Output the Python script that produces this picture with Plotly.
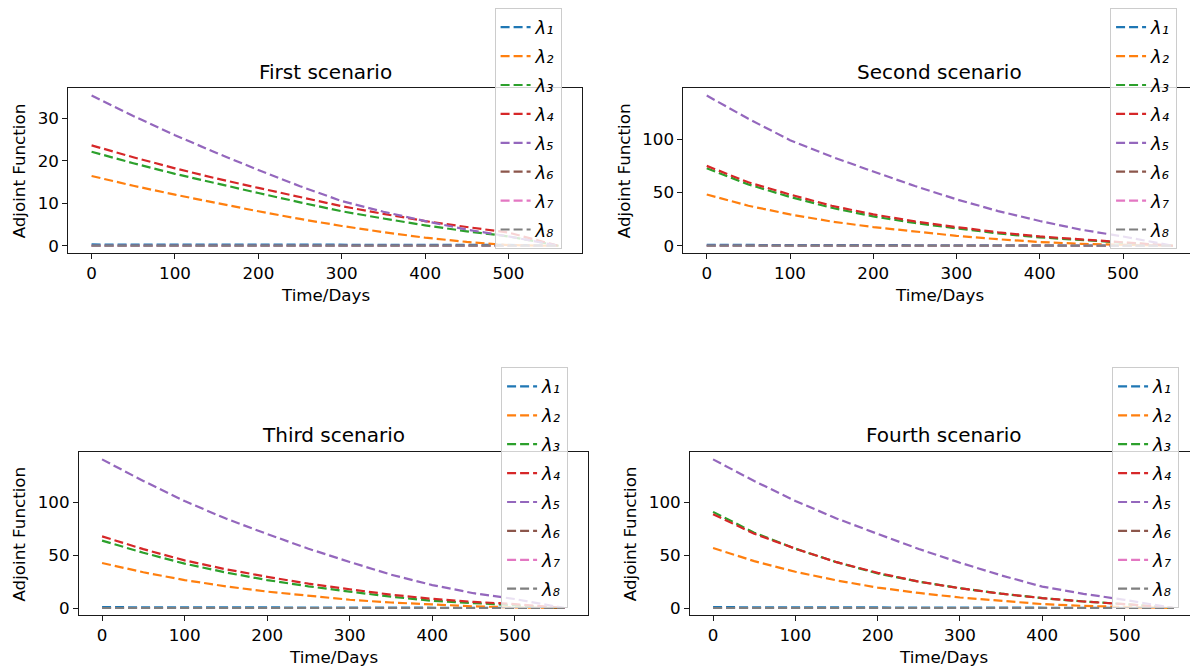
import plotly.graph_objects as go

# ---------------- data ----------------
t = [0, 50, 100, 150, 200, 250, 300, 350, 400, 450, 500, 550, 560]

scenario_titles = ["First scenario", "Second scenario", "Third scenario", "Fourth scenario"]
series_names = ["λ₁", "λ₂", "λ₃", "λ₄", "λ₅", "λ₆", "λ₇", "λ₈"]
colors = ["#1f77b4", "#ff7f0e", "#2ca02c", "#d62728", "#9467bd", "#8c564b", "#e377c2", "#7f7f7f"]

# First scenario
s1_l1 = [0.3, 0.3, 0.3, 0.3, 0.3, 0.3, 0.3, 0.3, 0.3, 0.3, 0.2, 0.05, 0]
s1_l2 = [16.4, 14.1, 12.0, 10.0, 8.1, 6.3, 4.65, 3.2, 1.9, 0.9, 0.15, 0.0, 0]
s1_l3 = [22.1, 19.4, 16.9, 14.6, 12.4, 10.2, 8.1, 6.4, 4.8, 3.4, 2.2, 0.4, 0]
s1_l4 = [23.6, 20.8, 18.2, 15.8, 13.6, 11.4, 9.3, 7.5, 5.8, 4.4, 3.1, 0.5, 0]
s1_l5 = [35.3, 30.5, 26.0, 21.8, 17.8, 14.0, 10.5, 8.0, 5.8, 3.8, 2.2, 0.35, 0]
s1_l6 = [0] * 13
s1_l7 = [0] * 13
s1_l8 = [0] * 13

# Second scenario
s2_l1 = [0.8, 0.8, 0.8, 0.8, 0.8, 0.8, 0.8, 0.8, 0.7, 0.6, 0.4, 0.1, 0]
s2_l2 = [48.0, 37.5, 29.4, 22.7, 17.5, 13.1, 9.3, 6.1, 3.5, 1.8, 0.6, 0.1, 0]
s2_l3 = [72.7, 57.5, 45.8, 35.6, 27.5, 21.3, 16.3, 11.6, 7.8, 5.2, 3.1, 0.5, 0]
s2_l4 = [74.9, 59.5, 48.0, 37.5, 29.4, 22.8, 17.5, 12.6, 8.7, 6.0, 3.7, 0.6, 0]
s2_l5 = [140.8, 119.0, 99.0, 83.5, 69.6, 56.0, 43.5, 32.5, 23.2, 15.0, 8.7, 1.4, 0]
s2_l6 = [0] * 13
s2_l7 = [0] * 13
s2_l8 = [0] * 13

# Third scenario
s3_l1 = [0.8, 0.8, 0.8, 0.8, 0.8, 0.8, 0.8, 0.8, 0.7, 0.6, 0.4, 0.1, 0]
s3_l2 = [42.5, 33.8, 26.4, 20.5, 15.5, 11.4, 7.8, 5.2, 3.1, 1.6, 0.6, 0.1, 0]
s3_l3 = [63.7, 52.2, 41.9, 33.6, 26.4, 20.5, 15.5, 10.7, 6.8, 4.8, 3.1, 0.5, 0]
s3_l4 = [67.7, 55.6, 45.0, 36.6, 29.5, 23.0, 17.7, 12.6, 8.7, 5.8, 3.7, 0.6, 0]
s3_l5 = [140.4, 120.0, 101.0, 84.5, 69.9, 56.0, 43.5, 31.5, 21.7, 14.0, 8.5, 1.4, 0]
s3_l6 = [0] * 13
s3_l7 = [0] * 13
s3_l8 = [0] * 13

# Fourth scenario
s4_l1 = [0.8, 0.8, 0.8, 0.8, 0.8, 0.8, 0.8, 0.8, 0.7, 0.6, 0.4, 0.1, 0]
s4_l2 = [56.9, 44.5, 34.4, 26.2, 19.4, 14.3, 10.0, 6.6, 3.75, 2.0, 0.9, 0.15, 0]
s4_l3 = [91.2, 71.5, 56.3, 43.5, 32.8, 25.0, 18.8, 13.6, 9.4, 6.2, 3.75, 0.6, 0]
s4_l4 = [89.0, 70.5, 56.3, 43.5, 33.4, 25.0, 18.8, 13.6, 9.4, 6.2, 3.75, 0.6, 0]
s4_l5 = [141.0, 120.5, 101.6, 85.0, 70.3, 56.0, 43.0, 31.0, 20.3, 13.5, 7.8, 1.3, 0]
s4_l6 = [0] * 13
s4_l7 = [0] * 13
s4_l8 = [0] * 13

scenarios = [
    [s1_l1, s1_l2, s1_l3, s1_l4, s1_l5, s1_l6, s1_l7, s1_l8],
    [s2_l1, s2_l2, s2_l3, s2_l4, s2_l5, s2_l6, s2_l7, s2_l8],
    [s3_l1, s3_l2, s3_l3, s3_l4, s3_l5, s3_l6, s3_l7, s3_l8],
    [s4_l1, s4_l2, s4_l3, s4_l4, s4_l5, s4_l6, s4_l7, s4_l8],
]
y_dticks = [10, 50, 50, 50]

# ---------------- layout geometry (pixels in the screenshot) ----------------
OFF = 8  # default page body margin
W, H = 1198 - OFF, 670 - OFF
# plot areas: (left, right, top, bottom) in screenshot px
areas = [
    (68.3, 582.3, 88.3, 254.0),
    (684.0, 1197.3, 88.3, 254.0),
    (79.0, 588.0, 453.3, 617.3),
    (690.6, 1198.0, 453.3, 617.3),
]
legend_pos = [(495.0, 8.0), (1111.0, 8.0), (501.5, 368.3), (1113.0, 368.3)]
ylabel_x = [18.7, 624.0, 18.8, 630.0]
title_y = [71.7, 71.7, 436.0, 436.0]
xlabel_y = [296.0, 296.0, 659.0, 659.0]


def px(v):
    return (v - OFF) / W


def py(v):
    return 1 - (v - OFF) / H


FONT = "DejaVu Sans"
TXT = "#000000"

fig = go.Figure()
layout_upd = {}
annotations = []

for k in range(4):
    xa = "x" if k == 0 else f"x{k+1}"
    ya = "y" if k == 0 else f"y{k+1}"
    leg = "legend" if k == 0 else f"legend{k+1}"
    for i, (name, col) in enumerate(zip(series_names, colors)):
        fig.add_trace(go.Scatter(
            x=t, y=scenarios[k][i], mode="lines", name=name,
            line=dict(color=col, width=2.2, dash="9px,4px"),
            xaxis=xa, yaxis=ya, legend=leg, legendgroup=f"g{k}_{i}",
            hoverinfo="skip",
        ))
    l, r, tp, b = areas[k]
    allv = [v for s in scenarios[k] for v in s]
    ymin, ymax = min(allv), max(allv)
    ypad = 0.05 * (ymax - ymin)
    xpad = 0.05 * (max(t) - min(t))
    axis_common = dict(
        showgrid=False, zeroline=False, showline=True, mirror=True,
        linecolor="#1a1a1a", linewidth=1, ticks="outside", ticklen=5, tickwidth=1,
        tickcolor="#1a1a1a", tickfont=dict(family=FONT, size=16.7, color=TXT),
    )
    xkey = "xaxis" if k == 0 else f"xaxis{k+1}"
    ykey = "yaxis" if k == 0 else f"yaxis{k+1}"
    layout_upd[xkey] = dict(
        domain=[px(l), min(px(r), 1.0)], anchor=ya, range=[min(t) - xpad, max(t) + xpad],
        tickmode="linear", tick0=0, dtick=100, **axis_common)
    layout_upd[ykey] = dict(
        domain=[py(b), py(tp)], anchor=xa, range=[ymin - ypad, ymax + ypad],
        tickmode="linear", tick0=0, dtick=y_dticks[k], **axis_common)
    lx, ly = legend_pos[k]
    layout_upd[leg] = dict(
        x=px(lx), y=min(py(ly), 1.0), xanchor="left", yanchor="top",
        bgcolor="rgba(255,255,255,0.8)", bordercolor="#cccccc", borderwidth=1,
        font=dict(family=FONT, size=18, color=TXT, style="italic"), tracegroupgap=2.5,
        traceorder="grouped",
    )
    # title
    annotations.append(dict(text=scenario_titles[k], x=px((l + r) / 2), y=py(title_y[k]),
                            xref="paper", yref="paper", xanchor="center", yanchor="middle",
                            showarrow=False, font=dict(family=FONT, size=20, color=TXT)))
    # x label
    annotations.append(dict(text="Time/Days", x=px((l + r) / 2), y=py(xlabel_y[k]),
                            xref="paper", yref="paper", xanchor="center", yanchor="middle",
                            showarrow=False, font=dict(family=FONT, size=16.7, color=TXT)))
    # y label
    annotations.append(dict(text="Adjoint Function", x=px(ylabel_x[k]), y=py((tp + b) / 2),
                            xref="paper", yref="paper", xanchor="center", yanchor="middle",
                            textangle=-90, showarrow=False,
                            font=dict(family=FONT, size=16.7, color=TXT)))

fig.update_layout(
    width=W, height=H, margin=dict(l=0, r=0, t=0, b=0),
    paper_bgcolor="white", plot_bgcolor="white",
    showlegend=True, annotations=annotations,
    font=dict(family=FONT, color=TXT),
    **layout_upd,
)

fig.write_html("out.html")
